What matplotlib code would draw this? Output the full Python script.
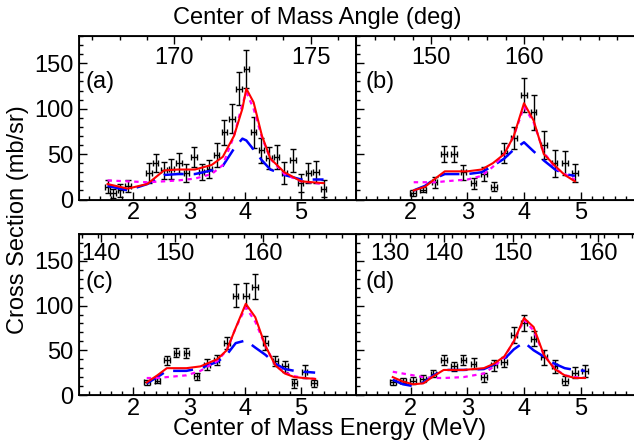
import numpy as np
import matplotlib
matplotlib.use("Agg")
import matplotlib.pyplot as plt
from matplotlib.ticker import MultipleLocator
import matplotlib.transforms as mtransforms

plt.rcParams['font.family'] = ['Liberation Sans', 'DejaVu Sans']

# ---- data: energy (MeV), cross section (mb/sr), error ----
a_E = [1.54, 1.64, 1.77, 1.91, 2.28, 2.40, 2.55, 2.68, 2.82, 2.95, 3.08, 3.22, 3.36, 3.49,
       3.63, 3.76, 3.89, 4.02, 4.15, 4.29, 4.42, 4.56, 4.70, 4.85, 4.99, 5.13, 5.26, 5.40]
a_y = [14, 7, 10, 15, 29, 40, 32, 34, 40, 29, 47, 30, 34, 49,
       74, 89, 122, 144, 74, 54, 46, 47, 29, 43, 18, 29, 30, 12]
a_err = [7, 5, 7, 7, 11, 10, 9, 11, 11, 10, 11, 9, 10, 13,
         14, 16, 18, 21, 17, 14, 12, 13, 12, 13, 10, 11, 12, 9]

b_E = [2.04, 2.22, 2.42, 2.58, 2.76, 2.93, 3.11, 3.29, 3.47, 3.65, 3.82, 4.00, 4.17, 4.35,
       4.54, 4.72, 4.90]
b_y = [7, 11, 19, 50, 50, 30, 18, 28, 14, 51, 68, 115, 96, 60, 40, 40, 29]
b_err = [3, 3, 6, 9, 9, 8, 6, 8, 5, 11, 12, 19, 19, 15, 15, 13, 10]

c_E = [2.24, 2.43, 2.60, 2.77, 2.95, 3.13, 3.32, 3.49, 3.67, 3.83, 4.01, 4.18, 4.36, 4.54,
       4.71, 4.88, 5.06, 5.23]
c_y = [14, 16, 39, 47, 47, 21, 34, 39, 58, 111, 111, 121, 58, 38, 32, 13, 26, 13]
c_err = [3, 3, 5, 5, 6, 4, 6, 6, 7, 13, 14, 14, 8, 6, 6, 5, 7, 4]

d_E = [1.68, 1.86, 2.04, 2.22, 2.40, 2.58, 2.76, 2.93, 3.11, 3.29, 3.47, 3.65, 3.82, 4.00,
       4.17, 4.35, 4.54, 4.72, 4.90, 5.08]
d_y = [14, 16, 16, 18, 24, 39, 32, 39, 35, 20, 33, 37, 67, 80, 63, 42, 32, 16, 25, 27]
d_err = [3, 3, 4, 4, 4, 6, 5, 6, 6, 5, 6, 6, 9, 9, 8, 8, 7, 5, 6, 7]

# ---- model curves: red solid, magenta dotted, blue dashed ----
a_fitE = [1.54, 1.90, 2.25, 2.55, 2.80, 3.10, 3.40, 3.60, 3.80, 3.95, 4.02, 4.15, 4.30, 4.45, 4.70, 5.00, 5.40]
a_red = [17, 12, 17, 32, 33, 33, 38, 47, 70, 100, 122, 107, 70, 45, 30, 20, 18]
a_mag = [21, 20, 19, 20, 21, 23, 28, 38, 70, 105, 118, 100, 68, 45, 28, 20, 17]
a_blu = [15, 10, 17, 27, 28, 28, 32, 37, 56, 67, 65, 55, 43, 33, 27, 22, 22]

b_fitE = [2.05, 2.25, 2.45, 2.60, 3.00, 3.25, 3.45, 3.65, 3.82, 4.00, 4.17, 4.35, 4.55, 4.72, 4.90]
b_red = [10, 14, 24, 31, 31, 33, 40, 50, 70, 106, 87, 50, 37, 27, 20]
b_mag = [19, 19, 19, 20, 22, 26, 36, 50, 70, 102, 85, 52, 35, 28, 22]
b_blu = [10, 15, 24, 28, 28, 30, 37, 45, 55, 63, 53, 43, 33, 28, 26]

c_fitE = [2.24, 2.43, 2.60, 2.95, 3.20, 3.50, 3.67, 3.83, 4.01, 4.18, 4.36, 4.54, 4.71, 4.88, 5.05, 5.25]
c_red = [14, 22, 30, 30, 32, 40, 50, 75, 102, 87, 55, 33, 24, 20, 19, 18]
c_mag = [19, 19, 20, 22, 27, 38, 50, 75, 98, 82, 55, 33, 25, 21, 19, 18]
c_blu = [13, 20, 27, 27, 30, 37, 45, 58, 61, 53, 45, 35, 29, 27, 26, 25]

d_fitE = [1.68, 1.86, 2.04, 2.22, 2.40, 2.58, 2.93, 3.29, 3.47, 3.65, 3.82, 4.00, 4.17, 4.35, 4.54, 4.72, 4.90, 5.08]
d_red = [20, 15, 12, 13, 21, 28, 28, 30, 35, 43, 60, 86, 76, 45, 29, 22, 19, 19]
d_mag = [26, 24, 22, 20, 19, 19, 20, 24, 32, 42, 60, 84, 72, 45, 30, 22, 20, 19]
d_blu = [17, 12, 10, 14, 22, 28, 28, 29, 34, 40, 51, 59, 50, 43, 35, 30, 28, 27]

# angle labels (deg) and the energy where each sits on the top axis
a_ang, a_angE = [170, 175], [2.73, 5.17]
b_ang, b_angE = [150, 160], [2.36, 4.005]
c_ang, c_angE = [140, 150, 160], [1.42, 2.74, 4.32]
d_ang, d_angE = [130, 140, 150, 160], [1.625, 2.59, 3.81, 5.30]

panels = [
    ("(a)", a_E, a_y, a_err, a_fitE, a_red, a_mag, a_blu, a_ang, a_angE, 1),
    ("(b)", b_E, b_y, b_err, b_fitE, b_red, b_mag, b_blu, b_ang, b_angE, 2),
    ("(c)", c_E, c_y, c_err, c_fitE, c_red, c_mag, c_blu, c_ang, c_angE, 2),
    ("(d)", d_E, d_y, d_err, d_fitE, d_red, d_mag, d_blu, d_ang, d_angE, 2),
]

W, H = 634, 443
fig = plt.figure(figsize=(W / 100, H / 100), dpi=100)
boxes = [(79, 356, 36, 199.5), (356, 636, 36, 199.5),
         (79, 356, 234, 395), (356, 636, 234, 395)]
FS = 17

for i, (lab, E, y, err, fE, red, mag, blu, ang, angE, step) in enumerate(panels):
    x0, x1, y0, y1 = boxes[i]
    ax = fig.add_axes([x0 / W, 1 - y1 / H, (x1 - x0) / W, (y1 - y0) / H])
    ax.set_xlim(1.03, 5.98)
    ax.set_ylim(0, 180)

    ax.errorbar(E, y, yerr=err, xerr=0.05, fmt='none', ecolor='black',
                elinewidth=1.0, capsize=2, capthick=1.0, zorder=3)
    ax.plot(fE, blu, color='#0000ff', lw=1.8, dashes=(8, 4), zorder=4)
    ax.plot(fE, mag, color='#ff00ff', lw=1.6, dashes=(2, 2), zorder=5)
    ax.plot(fE, red, color='#ff0000', lw=1.5, zorder=6)

    ax.xaxis.set_major_locator(MultipleLocator(1))
    ax.xaxis.set_minor_locator(MultipleLocator(0.2))
    ax.yaxis.set_major_locator(MultipleLocator(50))
    ax.yaxis.set_minor_locator(MultipleLocator(10))
    ax.tick_params(which='both', direction='in', top=False, right=False,
                   labelsize=FS, width=1.0)
    ax.tick_params(which='major', length=6)
    ax.tick_params(which='minor', length=3)
    ax.tick_params(axis='x', pad=2)
    ax.tick_params(axis='y', pad=4)
    if i in (1, 3):
        ax.tick_params(labelleft=False)
    for s in ax.spines.values():
        s.set_linewidth(1.3)

    ax.text(0.025 if i in (0, 2) else 0.035, 0.72 if i < 2 else 0.70, lab,
            transform=ax.transAxes, fontsize=FS, va='center', ha='left')

    # top angle axis
    ax2 = ax.twiny()
    ax2.set_xlim(ax.get_xlim())
    k, b0 = np.polyfit(ang, angE, 1)
    minor_ang = np.arange(100, 200, step)
    minor_pos = [k * a + b0 for a in minor_ang]
    minor_pos = [p for p in minor_pos if 1.05 < p < 5.96]
    ax2.set_xticks(angE, labels=[])
    ax2.set_xticks(minor_pos, minor=True)
    ax2.tick_params(which='both', direction='in', width=1.0)
    ax2.tick_params(which='major', length=6)
    ax2.tick_params(which='minor', length=3)
    trans = mtransforms.blended_transform_factory(ax.transData, ax.transAxes)
    ty = 0.865 if i < 2 else 0.875
    for a, pe in zip(ang, angE):
        ax.text(pe, ty, str(a), transform=trans, fontsize=FS, ha='center', va='center')

fig.text(317 / W, 1 - 18 / H, "Center of Mass Angle (deg)", fontsize=FS,
         ha='center', va='center')
fig.text(330 / W, 1 - 429 / H, "Center of Mass Energy (MeV)", fontsize=FS,
         ha='center', va='center')
fig.text(18 / W, 1 - 220 / H, "Cross Section (mb/sr)", fontsize=FS,
         ha='center', va='center', rotation=90)

fig.savefig("out.png", dpi=100)
